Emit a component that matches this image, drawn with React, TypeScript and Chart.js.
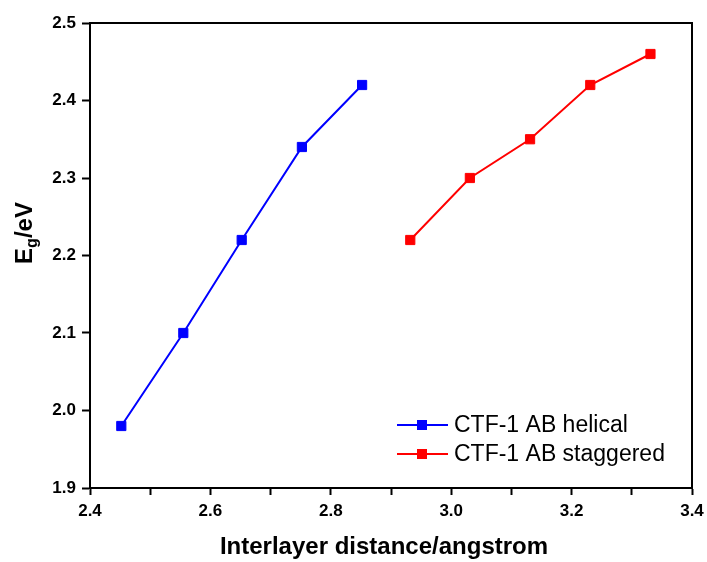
import React, { useEffect, useRef } from "react";
import { Chart, registerables } from "chart.js";

Chart.register(...registerables);

const helicalX = [2.452, 2.555, 2.652, 2.752, 2.852];
const helicalY = [1.98, 2.1, 2.22, 2.34, 2.42];
const staggeredX = [2.932, 3.031, 3.131, 3.231, 3.331];
const staggeredY = [2.22, 2.3, 2.35, 2.42, 2.46];
const seriesNames = ["CTF-1 AB helical", "CTF-1 AB staggered"];
const xTitle = "Interlayer distance/angstrom";
const yTitleMain = "E";
const yTitleSub = "g";
const yTitleRest = "/eV";

const FONT = "'Liberation Sans', Arial, sans-serif";

const decorPlugin = {
  id: "decor",
  afterDraw(chart: any) {
    const { ctx, chartArea } = chart;
    const { left, right, top, bottom } = chartArea;
    ctx.save();
    ctx.strokeStyle = "#000";
    ctx.lineWidth = 2;
    ctx.beginPath();
    ctx.moveTo(left, top);
    ctx.lineTo(right, top);
    ctx.lineTo(right, bottom);
    ctx.stroke();

    ctx.fillStyle = "#000";
    ctx.font = `bold 24px ${FONT}`;
    ctx.textAlign = "center";
    ctx.textBaseline = "alphabetic";
    ctx.fillText(xTitle, 384, 554);

    const big = `bold 24px ${FONT}`;
    const small = `bold 16px ${FONT}`;
    ctx.font = big;
    const w1 = ctx.measureText(yTitleMain).width;
    const w3 = ctx.measureText(yTitleRest).width;
    ctx.font = small;
    const w2 = ctx.measureText(yTitleSub).width;
    const total = w1 + w2 + w3;
    ctx.translate(32, 233);
    ctx.rotate(-Math.PI / 2);
    ctx.textAlign = "left";
    let x = -total / 2;
    ctx.font = big;
    ctx.fillText(yTitleMain, x, 0);
    x += w1;
    ctx.font = small;
    ctx.fillText(yTitleSub, x, 5);
    x += w2;
    ctx.font = big;
    ctx.fillText(yTitleRest, x, 0);
    ctx.restore();

    ctx.save();
    const rows = [425, 454];
    chart.data.datasets.forEach((ds: any, i: number) => {
      const y = rows[i];
      ctx.strokeStyle = ds.borderColor;
      ctx.lineWidth = 2;
      ctx.beginPath();
      ctx.moveTo(397, y);
      ctx.lineTo(448, y);
      ctx.stroke();
      ctx.fillStyle = ds.borderColor;
      ctx.fillRect(422 - 5, y - 5, 10, 10);
      ctx.fillStyle = "#000";
      ctx.font = `23px ${FONT}`;
      ctx.textAlign = "left";
      ctx.textBaseline = "middle";
      ctx.fillText(ds.label, 454, y + 1);
    });
    ctx.restore();
  },
};

export default function App() {
  const ref = useRef<HTMLCanvasElement | null>(null);

  useEffect(() => {
    if (!ref.current) return;
    const mk = (xs: number[], ys: number[]) => xs.map((x, i) => ({ x, y: ys[i] }));
    const chart = new Chart(ref.current, {
      type: "line",
      data: {
        datasets: [
          {
            label: seriesNames[0],
            data: mk(helicalX, helicalY),
            borderColor: "#0000ff",
            backgroundColor: "#0000ff",
            borderWidth: 2,
            pointStyle: "rect",
            pointRadius: 6.5,
            pointBorderWidth: 1,
            tension: 0,
          },
          {
            label: seriesNames[1],
            data: mk(staggeredX, staggeredY),
            borderColor: "#ff0000",
            backgroundColor: "#ff0000",
            borderWidth: 2,
            pointStyle: "rect",
            pointRadius: 6.5,
            pointBorderWidth: 1,
            tension: 0,
          },
        ],
      },
      options: {
        animation: false,
        responsive: true,
        maintainAspectRatio: false,
        layout: { padding: { left: 0, top: 23, right: 15, bottom: 0 } },
        plugins: {
          legend: { display: false },
          tooltip: { enabled: false },
        },
        scales: {
          x: {
            type: "linear",
            min: 2.4,
            max: 3.4,
            afterFit: (s: any) => {
              s.height = 74;
              s.paddingRight = 0;
              s.paddingLeft = 0;
            },
            ticks: {
              stepSize: 0.1,
              autoSkip: false,
              maxRotation: 0,
              padding: 6,
              color: "#000",
              font: { family: FONT, size: 17, weight: "bold" },
              callback: (v: any) => {
                const n = Math.round(Number(v) * 10);
                return n % 2 === 0 ? (n / 10).toFixed(1) : "";
              },
            },
            grid: {
              drawOnChartArea: false,
              drawTicks: true,
              tickLength: 7,
              tickWidth: 2,
              tickColor: "#000",
            },
            border: { display: true, color: "#000", width: 2 },
          },
          y: {
            type: "linear",
            min: 1.9,
            max: 2.5,
            afterFit: (s: any) => {
              s.width = 90;
              s.paddingTop = 0;
              s.paddingBottom = 0;
            },
            ticks: {
              stepSize: 0.1,
              padding: 6,
              color: "#000",
              font: { family: FONT, size: 17, weight: "bold" },
              callback: (v: any) => (Math.round(Number(v) * 10) / 10).toFixed(1),
            },
            grid: {
              drawOnChartArea: false,
              drawTicks: true,
              tickLength: 8,
              tickWidth: 2,
              tickColor: "#000",
            },
            border: { display: true, color: "#000", width: 2 },
          },
        },
      },
      plugins: [decorPlugin],
    } as any);
    return () => chart.destroy();
  }, []);

  return (
    <div style={{ position: "absolute", left: 0, top: 0, width: 707, height: 562, background: "#fff" }}>
      <canvas ref={ref} />
    </div>
  );
}
